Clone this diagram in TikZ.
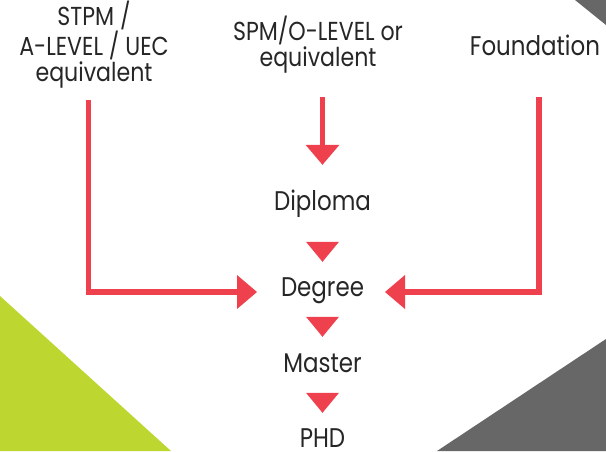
\documentclass[tikz,border=0pt]{standalone}
\usepackage{fontspec}
\setmainfont{Poppins}[FakeStretch=0.85]
\usetikzlibrary{arrows.meta}
\definecolor{arrred}{HTML}{EF404E}
\definecolor{lime}{HTML}{BDD630}
\definecolor{slate}{HTML}{676768}
\begin{document}
\begin{tikzpicture}[x=1pt,y=-1pt,
  lbl/.style={inner sep=0pt, text=black!85, font=\fontsize{27}{27}\selectfont, text height=14.7pt, text depth=5.3pt, anchor=base},
  toplbl/.style={inner sep=0pt, text=black!85, font=\fontsize{26}{26}\selectfont, align=center, anchor=base},
  conn/.style={draw=arrred, line width=5.3pt, -{Triangle[length=20pt,width=34pt,line width=0pt]}},
  tri/.style={draw=arrred, line width=0.1pt, -{Triangle[length=20pt,width=33pt,line width=0pt]}},
]
\useasboundingbox (0,0) rectangle (606,451);
\fill[lime] (0,296) -- (0,451) -- (171,451) -- cycle;
\fill[slate] (606,339) -- (606,451) -- (437,451) -- cycle;
\fill[slate] (575,0) -- (606,0) -- (606,25) -- cycle;

\node[toplbl] (stpm) at (94,81.7) {STPM /\\A-LEVEL / UEC\\equivalent};
\node[toplbl] (spm) at (318,66.7) {SPM/O-LEVEL or\\equivalent};
\node[lbl] (fnd) at (535,55) {Foundation};
\node[lbl] (dip) at (322.5,210) {Diploma};
\node[lbl] (deg) at (322.5,296.7) {Degree};
\node[lbl] (mas) at (322.5,372.7) {Master};
\node[lbl, text depth=1.5pt] (phd) at (322.5,447.7) {PHD};

\coordinate (s1) at (88.7,100);
\coordinate (s2) at (322.5,97);
\coordinate (s3) at (539,97);

\draw[conn] (s1) |- ([xshift=-65.5pt]deg.center);
\draw[conn] (s3) |- ([xshift=62.5pt]deg.center);
\draw[conn, shorten >=30.3pt] (s2) -- (s2 |- dip.north);
\draw[tri, shorten <=26.7pt, shorten >=20pt] (dip.south) -- (deg.north);
\draw[tri, shorten <=15pt, shorten >=21pt] (deg.south) -- (mas.north);
\draw[tri, shorten <=15pt, shorten >=20pt] (mas.south) -- (phd.north);
\end{tikzpicture}
\end{document}
